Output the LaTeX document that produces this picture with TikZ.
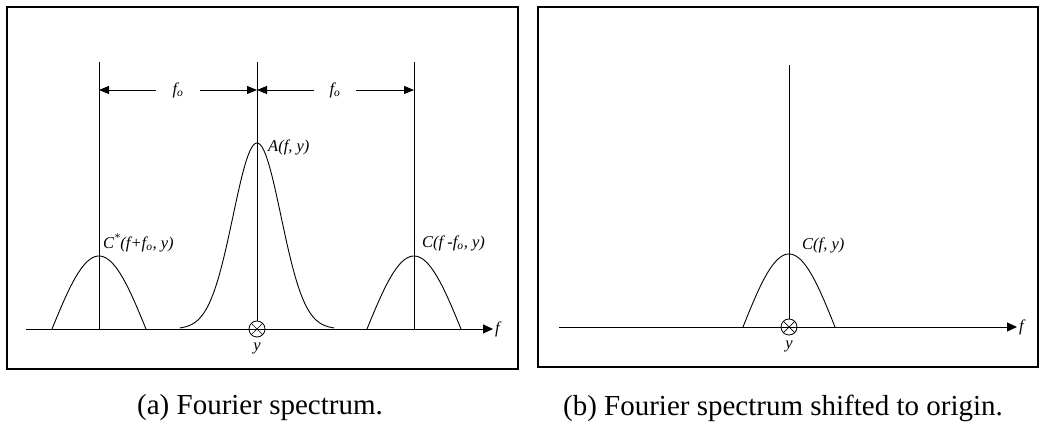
\documentclass[tikz,border=0pt]{standalone}
\usepackage{fontspec}
\setmainfont{Liberation Serif}
\usetikzlibrary{arrows.meta,positioning,calc}
\tikzset{
  axisline/.style={line width=0.9pt, -{Triangle[length=10pt,width=9pt]}},
  dimline/.style={line width=0.9pt, -{Triangle[length=10pt,width=8pt]}},
  panel/.style={line width=1.6pt},
  curve/.style={line width=0.9pt},
  lbl/.style={font=\fontsize{16.5}{19}\selectfont\itshape, inner sep=1pt},
  caplbl/.style={font=\fontsize{29}{34}\selectfont},
  origin/.style={circle, draw, line width=0.8pt, minimum size=16pt, inner sep=0pt},
}
\begin{document}
\begin{tikzpicture}[x=1pt,y=-1pt]
    \useasboundingbox (0,0) rectangle (1042,427);

    % (a) panel frame
    \draw[panel] (7,7) rectangle (518,369);

    % f axis with origin marker
    \node[origin] (oa) at (257,329) {};
    \draw[line width=0.7pt] (oa.center) -- (oa.135) (oa.center) -- (oa.45)
      (oa.center) -- (oa.225) (oa.center) -- (oa.315);
    \coordinate (axa0) at (26,329);
    \coordinate (axa1) at (493,329);
    \draw[axisline] (axa0) -- (axa1);
    \node[lbl, right=1pt of axa1] (fa) {f};
    \node[lbl, below=4pt of oa] (ya) {y};

    % carrier lines
    \coordinate (tl) at (99,62);   \coordinate (bl) at (99,329);
    \coordinate (tc) at (257,62);
    \coordinate (tr) at (414,62);  \coordinate (br) at (414,329);
    \draw[curve] (tl) -- (bl);
    \draw[curve] (tc) -- (oa.north);
    \draw[curve] (tr) -- (br);

    % f_o spacings
    \coordinate (dl) at (99,90);
    \coordinate (dc) at (257,90);
    \coordinate (dr) at (414,90);
    \node[lbl, minimum width=44pt] (foa) at (178,90) {f\textsubscript{o}};
    \node[lbl, minimum width=42pt] (fob) at (335,90) {f\textsubscript{o}};
    \draw[dimline] (foa.west) -- (dl);
    \draw[dimline] (foa.east) -- (dc);
    \draw[dimline] (fob.west) -- (dc);
    \draw[dimline] (fob.east) -- (dr);

    % spectra
    \draw[curve] plot[domain=-77:77, samples=80]
      ({257+\x},{329-186*exp(-(\x*\x)/1152)});
    \draw[curve] plot[domain=-47:47, samples=50]
      ({99+\x},{329-73*cos(90*\x/47)});
    \draw[curve] plot[domain=-47:47, samples=50]
      ({414+\x},{329-73*cos(90*\x/47)});
    \node[lbl, anchor=west] (la) at (267,147) {A(f, y)};
    \node[lbl, anchor=west] (lc1) at (102,243) {C\textsuperscript{*}(f+f\textsubscript{o}, y)};
    \node[lbl, anchor=west] (lc2) at (421,243) {C(f -f\textsubscript{o}, y)};

    % (b) panel frame
    \draw[panel] (538,7) rectangle (1038,367);

    % shifted spectrum
    \node[origin] (ob) at (789,327) {};
    \draw[line width=0.7pt] (ob.center) -- (ob.135) (ob.center) -- (ob.45)
      (ob.center) -- (ob.225) (ob.center) -- (ob.315);
    \coordinate (axb0) at (559,327);
    \coordinate (axb1) at (1017,327);
    \draw[axisline] (axb0) -- (axb1);
    \node[lbl, right=1pt of axb1] (fb) {f};
    \node[lbl, below=4pt of ob] (yb) {y};
    \coordinate (tb) at (789,65);
    \draw[curve] (tb) -- (ob.north);
    \draw[curve] plot[domain=-46:46, samples=50]
      ({789+\x},{327-73*cos(90*\x/46)});
    \node[lbl, anchor=west] (lcb) at (801,245) {C(f, y)};

    % captions
    \node[caplbl] (capa) at (260,408) {(a) Fourier spectrum.};
    \node[caplbl] (capb) at (783,408) {(b) Fourier spectrum shifted to origin.};
  \end{tikzpicture}
\end{document}
